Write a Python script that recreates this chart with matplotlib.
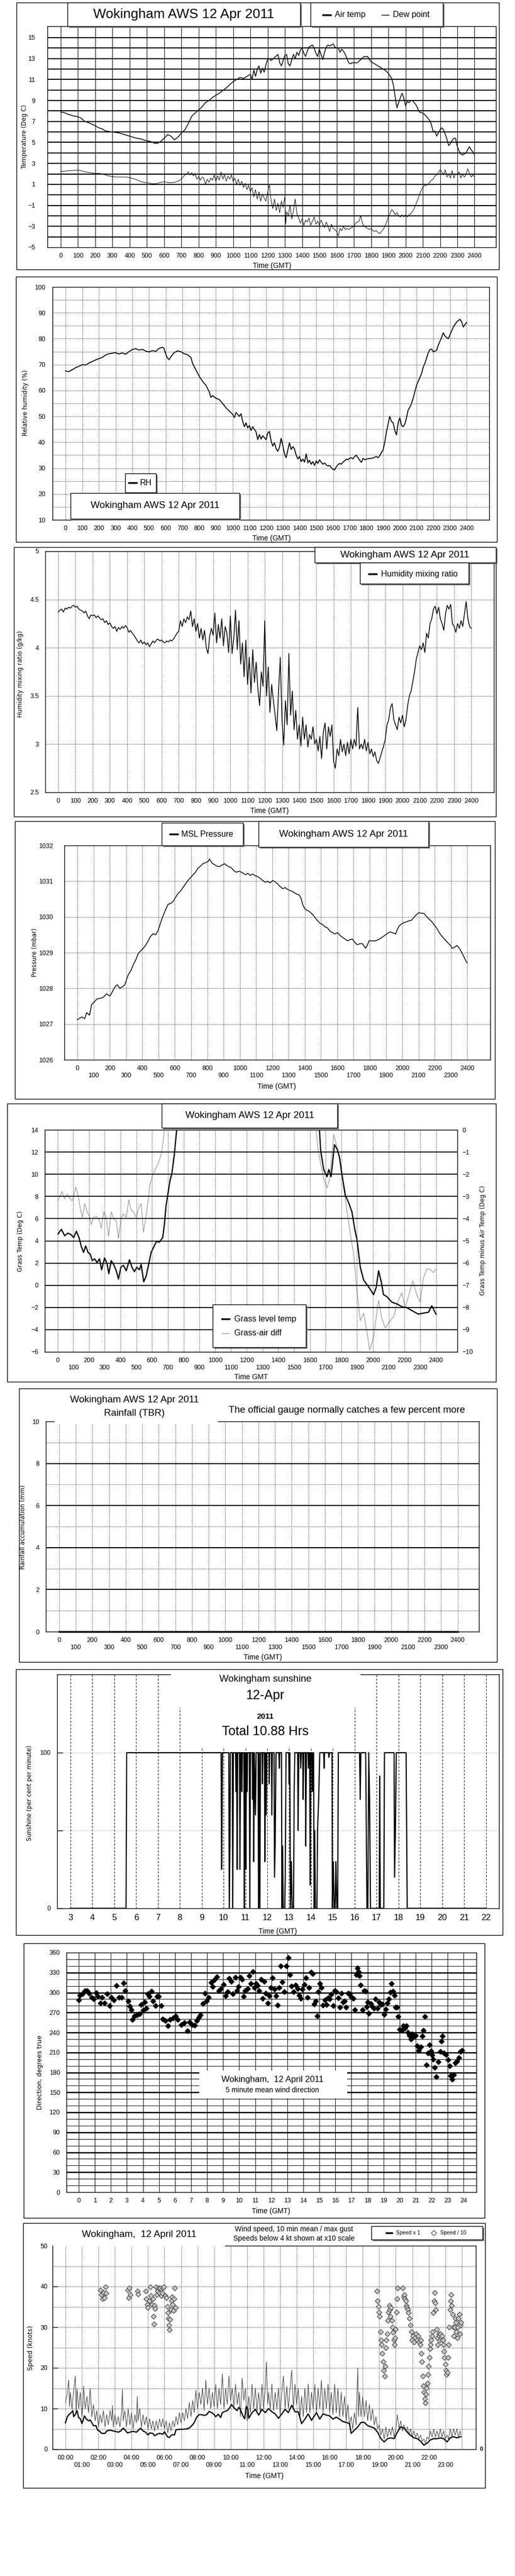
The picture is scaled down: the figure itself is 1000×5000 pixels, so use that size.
import matplotlib
matplotlib.use('Agg')
import matplotlib.pyplot as plt
from matplotlib.patches import Rectangle
from matplotlib.lines import Line2D
import numpy as np

plt.rcParams['font.family'] = ['Liberation Sans', 'DejaVu Sans']
LAB = ['DejaVu Sans']

# ---------------- DATA ----------------
TITLE = 'Wokingham AWS 12 Apr 2011'
hundreds = list(range(0, 2401, 100))

air_temp = [(0,7.9),(20,7.85),(40,7.7),(60,7.6),(80,7.5),(100,7.45),(120,7.3),(140,7.0),(160,6.9),(180,6.75),(200,6.6),
 (220,6.4),(240,6.3),(260,6.1),(280,6.05),(300,6.0),(320,5.95),(340,5.9),(360,5.8),(380,5.7),(400,5.6),(420,5.5),
 (440,5.4),(460,5.35),(480,5.25),(500,5.15),(520,5.1),(540,4.95),(560,4.9),(580,5.1),(600,5.4),(620,5.75),(640,5.6),
 (660,5.25),(680,5.5),(700,5.9),(720,6.2),(740,6.8),(760,7.5),(780,7.8),(800,8.1),(820,8.4),(840,8.8),(860,9.0),
 (880,9.3),(900,9.5),(920,9.7),(940,9.95),(960,10.2),(980,10.5),(1000,10.8),(1020,11.0),(1040,11.2),(1060,11.1),
 (1080,11.3),(1100,11.5),(1110,11.0),(1120,11.9),(1130,11.3),(1140,12.0),(1150,12.3),(1160,11.6),(1170,12.1),
 (1180,11.7),(1190,12.4),(1200,12.9),(1210,13.0),(1220,12.8),(1240,13.1),(1260,13.4),(1270,12.6),(1280,12.3),
 (1290,12.8),(1300,13.3),(1310,13.4),(1320,12.5),(1330,12.3),(1340,12.9),(1350,13.4),(1360,13.0),(1370,13.6),
 (1380,13.3),(1390,13.8),(1400,14.0),(1410,13.5),(1420,13.2),(1430,13.7),(1440,14.1),(1450,14.2),(1460,14.3),
 (1470,14.0),(1480,13.5),(1490,13.2),(1500,13.9),(1510,13.4),(1520,12.9),(1530,13.6),(1540,14.1),(1550,14.3),
 (1560,14.2),(1570,14.3),(1580,14.4),(1590,14.1),(1600,14.0),(1610,14.0),(1620,13.6),(1630,13.9),(1640,13.7),
 (1650,13.4),(1660,13.0),(1670,12.6),(1680,12.5),(1690,12.6),(1700,12.6),(1720,12.6),(1740,12.9),(1760,13.2),
 (1780,13.2),(1790,12.9),(1800,12.7),(1820,12.5),(1840,12.3),(1860,12.1),(1880,11.9),(1900,11.6),(1920,11.1),
 (1930,10.4),(1940,9.3),(1950,8.3),(1960,8.8),(1970,9.3),(1980,9.7),(1990,9.2),(2000,8.5),(2010,8.9),(2020,8.8),
 (2030,9.0),(2040,9.0),(2060,8.6),(2080,7.9),(2100,7.8),(2120,7.5),(2140,7.1),(2150,6.7),(2160,6.0),(2170,6.1),
 (2180,5.6),(2190,5.9),(2200,6.2),(2210,6.4),(2220,6.2),(2230,5.8),(2240,5.3),(2250,4.7),(2260,4.9),(2270,5.2),
 (2280,5.4),(2290,5.4),(2300,4.6),(2310,4.2),(2320,3.9),(2330,3.8),(2340,3.9),(2350,4.0),(2360,4.3),(2370,4.6),
 (2380,4.3),(2390,4.1),(2400,3.85)]

dew_point = [(0,2.25),(20,2.25),(40,2.3),(60,2.3),(80,2.35),(100,2.35),(120,2.3),(140,2.2),(160,2.15),(180,2.1),
 (200,2.05),(220,2.05),(240,2.0),(260,1.9),(280,1.8),(300,1.75),(320,1.7),(340,1.7),(360,1.7),(380,1.7),(400,1.65),
 (420,1.55),(440,1.45),(460,1.3),(480,1.2),(500,1.15),(520,1.1),(540,1.05),(560,1.1),(580,1.2),(600,1.25),(620,1.2),
 (640,1.15),(660,1.2),(680,1.3),(700,1.5),(720,1.9),(730,2.0),(740,2.2),(750,1.9),(760,2.1),(770,1.8),(780,2.05),
 (790,1.5),(800,1.75),(810,1.4),(820,1.7),(830,1.6),(840,1.0),(850,1.5),(860,1.2),(870,1.6),(880,1.4),(890,1.9),
 (900,1.3),(910,1.8),(920,1.4),(930,2.2),(940,1.5),(950,1.9),(960,1.3),(970,1.8),(980,1.5),(990,1.9),(1000,1.3),
 (1010,1.6),(1020,1.0),(1030,1.5),(1040,0.9),(1050,1.3),(1060,0.7),(1070,1.1),(1080,0.5),(1090,0.9),(1100,0.3),
 (1110,0.7),(1120,-0.2),(1130,0.5),(1140,-0.4),(1150,0.3),(1160,-0.6),(1170,0.1),(1180,-0.3),(1190,-0.6),(1200,0.2),
 (1210,1.0),(1220,-0.5),(1230,-1.3),(1240,-0.4),(1250,-1.5),(1260,-0.8),(1270,-1.7),(1280,-0.6),(1290,-1.2),
 (1300,-0.2),(1305,-2.8),(1310,-1.6),(1320,-2.0),(1330,-1.0),(1340,-2.3),(1350,-1.5),(1360,-0.4),(1370,-1.8),
 (1380,-2.2),(1390,-2.7),(1400,-2.3),(1410,-2.9),(1420,-2.4),(1430,-2.6),(1440,-2.2),(1450,-2.9),(1460,-2.5),
 (1470,-2.1),(1480,-2.8),(1490,-2.5),(1500,-2.9),(1510,-2.4),(1520,-2.8),(1530,-3.1),(1540,-2.6),(1550,-3.0),
 (1560,-3.5),(1570,-2.8),(1580,-3.2),(1590,-3.3),(1600,-3.5),(1610,-3.9),(1620,-3.2),(1630,-3.4),(1640,-3.0),
 (1650,-3.3),(1660,-3.2),(1670,-3.3),(1680,-3.2),(1690,-3.1),(1700,-3.0),(1710,-2.7),(1720,-2.6),(1730,-2.5),
 (1740,-2.0),(1750,-2.7),(1760,-3.0),(1770,-3.1),(1780,-3.2),(1790,-3.3),(1800,-3.2),(1810,-3.4),(1820,-3.5),
 (1830,-3.4),(1840,-3.6),(1850,-3.7),(1860,-3.5),(1870,-3.3),(1880,-3.0),(1890,-2.6),(1900,-2.1),(1910,-1.8),
 (1920,-1.4),(1930,-1.6),(1940,-1.9),(1950,-1.7),(1960,-2.0),(1970,-2.1),(1980,-1.9),(1990,-2.1),(2000,-1.9),
 (2010,-2.1),(2020,-1.9),(2030,-1.8),(2040,-1.6),(2050,-1.3),(2060,-0.9),(2070,-0.5),(2080,0.0),(2090,0.4),
 (2100,0.7),(2110,0.9),(2120,0.9),(2130,1.0),(2140,1.2),(2150,1.4),(2160,1.5),(2170,1.8),(2180,1.9),(2190,2.1),
 (2200,2.4),(2210,2.2),(2220,1.9),(2230,2.4),(2240,1.7),(2250,2.0),(2260,1.6),(2270,2.3),(2280,1.6),(2290,2.0),
 (2300,1.9),(2310,2.2),(2320,1.6),(2330,2.0),(2340,1.7),(2350,1.9),(2360,2.5),(2370,2.1),(2380,1.7),(2390,1.9),
 (2400,1.7)]

rel_humidity = [(0,67.5),(20,67.3),(40,68.0),(60,68.8),(80,69.3),(100,70.0),(120,69.8),(140,70.6),(160,71.2),(180,71.8),
 (200,72.3),(220,72.8),(240,73.7),(260,74.2),(280,74.4),(300,74.6),(320,74.1),(340,74.5),(360,74.0),(380,75.0),
 (400,75.8),(420,76.2),(440,75.6),(460,75.9),(480,75.2),(500,74.9),(520,75.4),(540,75.1),(560,76.3),(580,76.7),
 (590,76.2),(600,74.0),(610,72.5),(620,71.9),(630,73.0),(650,74.6),(670,75.3),(690,75.0),(710,74.2),(730,73.8),
 (750,72.8),(760,70.5),(780,68.0),(800,65.5),(820,63.5),(840,62.0),(860,59.5),(870,57.3),(880,58.0),(900,57.0),
 (920,56.5),(940,55.0),(960,53.3),(980,52.0),(1000,50.8),(1010,49.5),(1020,51.5),(1040,50.0),(1050,51.0),
 (1060,48.0),(1070,46.0),(1080,47.5),(1090,45.5),(1100,46.5),(1110,44.5),(1120,46.0),(1140,44.0),(1150,41.0),
 (1160,43.0),(1170,41.2),(1180,42.5),(1200,41.0),(1210,43.5),(1220,44.2),(1230,40.5),(1240,38.5),(1250,39.8),
 (1260,37.5),(1270,36.5),(1280,38.0),(1290,41.5),(1300,38.8),(1310,35.5),(1320,34.0),(1330,37.0),(1340,39.8),
 (1350,37.2),(1360,38.3),(1370,37.4),(1380,35.0),(1390,33.5),(1400,34.5),(1410,32.5),(1420,33.5),(1430,32.3),
 (1440,35.5),(1450,32.0),(1460,33.0),(1470,31.5),(1480,32.5),(1490,31.0),(1500,32.8),(1510,31.8),(1520,33.2),
 (1530,32.3),(1540,31.5),(1550,32.0),(1560,31.2),(1570,30.8),(1580,31.0),(1590,30.2),(1600,29.5),(1610,29.3),
 (1620,30.5),(1630,31.3),(1640,31.8),(1650,31.5),(1660,32.3),(1670,32.8),(1680,33.5),(1690,33.2),(1700,33.8),
 (1710,34.0),(1720,33.6),(1730,34.5),(1740,35.0),(1750,34.0),(1760,33.0),(1770,32.2),(1780,33.8),(1790,33.2),
 (1800,33.5),(1820,33.7),(1840,33.9),(1860,34.5),(1870,34.0),(1880,34.8),(1890,36.0),(1900,37.0),(1910,40.0),
 (1920,44.0),(1930,47.0),(1940,50.0),(1950,48.0),(1960,47.5),(1970,44.5),(1980,42.8),(1990,47.5),(2000,49.5),
 (2010,46.5),(2020,46.0),(2030,47.0),(2040,49.5),(2050,52.5),(2060,53.5),(2070,55.0),(2080,57.0),(2090,59.5),
 (2100,62.0),(2110,63.5),(2120,65.0),(2130,66.5),(2140,69.0),(2150,70.5),(2160,72.5),(2170,74.5),(2180,75.8),
 (2190,76.0),(2200,75.0),(2210,75.2),(2220,75.5),(2230,77.5),(2240,79.0),(2250,80.5),(2260,82.3),(2270,81.0),
 (2280,80.5),(2290,80.0),(2300,81.5),(2310,83.0),(2320,84.5),(2330,85.5),(2340,86.5),(2350,87.0),(2360,87.5),
 (2370,86.5),(2380,84.5),(2390,85.5),(2400,86.3)]

mixing_ratio = [(0,4.37),(10,4.39),(20,4.40),(30,4.37),(40,4.41),(50,4.40),(60,4.42),(70,4.41),(80,4.43),(90,4.44),
 (100,4.42),(110,4.43),(120,4.40),(130,4.39),(140,4.38),(150,4.36),(160,4.38),(170,4.33),(180,4.30),(190,4.34),
 (200,4.33),(210,4.34),(220,4.31),(230,4.33),(240,4.31),(250,4.29),(260,4.30),(270,4.26),(280,4.28),(290,4.24),
 (300,4.26),(310,4.22),(320,4.20),(330,4.22),(340,4.17),(350,4.21),(360,4.19),(370,4.22),(380,4.20),(390,4.23),
 (400,4.21),(410,4.16),(420,4.18),(430,4.15),(440,4.13),(450,4.10),(460,4.07),(470,4.05),(480,4.08),(490,4.04),
 (500,4.06),(510,4.03),(520,4.05),(530,4.01),(540,4.04),(550,4.07),(560,4.05),(570,4.08),(580,4.09),(590,4.07),
 (600,4.08),(610,4.06),(620,4.05),(630,4.07),(640,4.06),(650,4.08),(660,4.07),(670,4.09),(680,4.12),(690,4.15),
 (700,4.17),(710,4.28),(720,4.22),(730,4.30),(740,4.26),(750,4.32),(760,4.29),(770,4.38),(780,4.22),(790,4.30),
 (800,4.17),(810,4.25),(820,4.10),(830,4.20),(840,4.08),(850,4.18),(860,4.00),(870,3.94),(880,4.12),(890,4.20),
 (900,4.13),(910,4.36),(920,4.05),(930,4.24),(940,4.10),(950,4.30),(960,4.02),(970,4.22),(980,4.15),(990,3.95),
 (1000,4.33),(1010,3.94),(1020,4.10),(1030,4.39),(1040,3.98),(1050,4.28),(1060,3.83),(1070,4.05),(1080,3.70),
 (1090,4.08),(1100,3.62),(1110,3.90),(1120,3.53),(1130,3.98),(1140,3.64),(1150,3.85),(1160,3.57),(1170,3.40),
 (1180,3.75),(1190,3.60),(1200,4.28),(1210,3.50),(1220,3.80),(1230,3.33),(1240,3.62),(1250,3.45),(1260,3.30),
 (1270,3.14),(1280,3.55),(1290,3.90),(1300,3.25),(1310,2.99),(1320,3.45),(1330,3.20),(1340,3.94),(1350,3.30),
 (1360,3.55),(1370,3.15),(1380,3.35),(1390,3.05),(1400,3.20),(1410,2.98),(1420,3.28),(1430,3.05),(1440,3.20),
 (1450,2.97),(1460,3.10),(1470,3.05),(1480,3.18),(1490,3.00),(1500,3.05),(1510,2.93),(1520,3.08),(1530,2.85),
 (1540,3.12),(1550,3.22),(1560,2.95),(1570,3.18),(1580,3.08),(1590,3.20),(1600,2.82),(1610,2.75),(1620,2.95),
 (1630,2.88),(1640,3.05),(1650,2.92),(1660,3.00),(1670,2.88),(1680,3.02),(1690,2.90),(1700,3.05),(1710,2.95),
 (1720,3.05),(1730,2.98),(1740,3.38),(1750,2.95),(1760,3.00),(1770,2.95),(1780,3.05),(1790,2.93),(1800,3.02),
 (1810,2.90),(1820,2.95),(1830,2.87),(1840,2.92),(1850,2.83),(1860,2.80),(1870,2.86),(1880,2.92),(1890,2.98),
 (1900,3.05),(1910,3.20),(1920,3.25),(1930,3.38),(1940,3.42),(1950,3.25),(1960,3.20),(1970,3.15),(1980,3.28),
 (1990,3.22),(2000,3.30),(2010,3.18),(2020,3.25),(2030,3.40),(2040,3.50),(2050,3.55),(2060,3.65),(2070,3.75),
 (2080,3.88),(2090,3.95),(2100,4.02),(2110,3.98),(2120,4.05),(2130,3.95),(2140,4.15),(2150,4.10),(2160,4.25),
 (2170,4.30),(2180,4.40),(2190,4.43),(2200,4.35),(2210,4.42),(2220,4.30),(2230,4.25),(2240,4.18),(2250,4.35),
 (2260,4.44),(2270,4.40),(2280,4.45),(2290,4.25),(2300,4.22),(2310,4.16),(2320,4.25),(2330,4.20),(2340,4.28),
 (2350,4.22),(2360,4.35),(2370,4.48),(2380,4.30),(2390,4.22),(2400,4.20)]

msl_pressure = [(0,1027.12),(27,1027.2),(45,1027.15),(57,1027.32),(75,1027.25),(88,1027.55),(105,1027.62),(119,1027.7),
 (140,1027.72),(160,1027.75),(180,1027.85),(200,1027.78),(215,1027.9),(231,1028.04),(245,1028.1),(262,1028.0),
 (280,1028.05),(292,1028.1),(313,1028.38),(330,1028.5),(344,1028.66),(360,1028.8),(374,1028.97),(390,1029.05),
 (405,1029.12),(420,1029.2),(436,1029.33),(450,1029.45),(466,1029.53),(482,1029.5),(497,1029.62),(517,1029.9),
 (538,1030.15),(558,1030.35),(575,1030.38),(589,1030.43),(605,1030.55),(620,1030.66),(635,1030.72),(650,1030.82),
 (665,1030.92),(681,1031.02),(697,1031.1),(712,1031.18),(727,1031.25),(742,1031.36),(758,1031.42),(773,1031.49),
 (790,1031.52),(805,1031.55),(814,1031.62),(830,1031.5),(845,1031.46),(860,1031.42),(875,1031.41),(890,1031.45),
 (906,1031.49),(925,1031.42),(947,1031.38),(962,1031.3),(978,1031.25),(998,1031.28),(1018,1031.23),(1035,1031.18),
 (1049,1031.22),(1065,1031.16),(1080,1031.2),(1095,1031.15),(1110,1031.13),(1125,1031.08),(1141,1031.02),
 (1157,1030.97),(1172,1031.0),(1187,1030.95),(1202,1031.02),(1218,1030.98),(1233,1030.92),(1248,1030.85),
 (1264,1030.79),(1280,1030.82),(1294,1030.77),(1310,1030.74),(1325,1030.71),(1345,1030.65),(1366,1030.61),
 (1377,1030.52),(1387,1030.35),(1397,1030.25),(1407,1030.2),(1428,1030.15),(1448,1030.07),(1463,1029.98),
 (1479,1029.89),(1494,1029.82),(1509,1029.79),(1525,1029.72),(1540,1029.69),(1555,1029.6),(1571,1029.56),
 (1586,1029.52),(1601,1029.56),(1617,1029.48),(1632,1029.43),(1648,1029.38),(1663,1029.33),(1678,1029.36),
 (1693,1029.38),(1709,1029.28),(1724,1029.22),(1740,1029.25),(1755,1029.25),(1765,1029.18),(1775,1029.12),
 (1786,1029.22),(1796,1029.33),(1816,1029.33),(1836,1029.33),(1852,1029.36),(1867,1029.4),(1882,1029.45),
 (1898,1029.5),(1913,1029.55),(1928,1029.58),(1944,1029.55),(1959,1029.52),(1970,1029.65),(1980,1029.74),
 (1995,1029.8),(2010,1029.84),(2025,1029.86),(2041,1029.89),(2056,1029.9),(2072,1029.99),(2087,1030.06),
 (2102,1030.12),(2118,1030.1),(2133,1030.1),(2148,1030.02),(2164,1029.94),(2179,1029.88),(2194,1029.79),
 (2210,1029.7),(2225,1029.58),(2240,1029.48),(2256,1029.4),(2271,1029.32),(2286,1029.25),(2297,1029.2),
 (2307,1029.12),(2322,1029.15),(2337,1029.2),(2352,1029.12),(2368,1028.99),(2383,1028.85),(2399,1028.71)]

# grass temperature (left axis); None = off the top of the chart (not shown)
grass_temp = [(4,4.62),(25,5.04),(46,4.46),(67,4.7),(88,4.54),(103,4.29),(120,4.87),(137,4.29),(152,3.46),(166,2.96),
 (179,3.54),(194,2.96),(208,2.8),(221,2.22),(236,2.38),(251,2.05),(267,2.38),(280,1.39),(299,2.46),(314,1.97),
 (326,1.05),(341,2.22),(356,1.88),(373,1.3),(387,0.56),(402,1.63),(419,1.8),(436,1.3),(457,2.3),(472,1.63),
 (488,1.22),(503,1.63),(520,1.39),(531,1.88),(547,0.31),(562,0.8),(577,1.8),(594,2.96),(611,3.46),(629,3.96),
 (646,3.88),(667,4.29),(678,5.45),(688,7.1),(699,8.1),(714,9.44),(726,10.1),(741,11.76),(756,14.0),(757,None),
 (1660,None),(1661,14.0),(1669,12.09),(1688,10.43),(1709,9.77),(1720,10.43),(1735,9.77),(1756,12.67),(1773,12.26),
 (1787,11.6),(1804,9.93),(1825,8.11),(1846,7.44),(1867,6.61),(1884,5.12),(1899,4.12),(1920,1.63),(1941,0.47),
 (1962,0.06),(1983,-0.36),(2004,-0.85),(2021,-0.19),(2036,1.3),(2053,0.31),(2067,-0.85),(2088,-1.02),(2120,-1.52),
 (2152,-1.68),(2183,-1.93),(2215,-2.02),(2246,-2.27),(2288,-2.6),(2320,-2.51),(2352,-2.43),(2373,-1.85),(2400,-2.6)]

# grass minus air temperature (right axis)
grass_air_diff = [(4,-3.2),(19,-2.95),(29,-2.78),(46,-3.11),(61,-2.9),(78,-3.07),(95,-3.2),(116,-2.57),(131,-2.95),
 (145,-3.53),(158,-3.94),(173,-3.32),(187,-3.69),(200,-3.82),(215,-4.27),(229,-3.94),(246,-3.9),(263,-4.02),
 (278,-4.44),(293,-3.69),(309,-3.94),(324,-4.81),(341,-3.69),(358,-4.02),(373,-4.11),(387,-4.9),(404,-3.94),
 (419,-3.78),(436,-3.94),(453,-3.15),(467,-3.61),(482,-3.69),(499,-3.94),(516,-3.49),(531,-3.32),(545,-4.61),
 (558,-4.11),(573,-3.28),(587,-2.45),(604,-2.03),(621,-1.78),(642,-1.45),(657,-1.12),(667,-0.71),(678,0.0),
 (679,None),(1639,None),(1640,0.0),(1650,-0.79),(1667,-1.45),(1688,-2.2),(1709,-2.61),(1726,-2.2),(1752,-0.21),
 (1773,-0.79),(1794,-1.37),(1815,-2.61),(1836,-3.69),(1857,-4.69),(1878,-5.6),(1899,-7.26),(1920,-8.59),
 (1941,-8.26),(1962,-9.09),(1979,-9.92),(2004,-9.34),(2036,-7.68),(2057,-8.51),(2078,-8.92),(2109,-8.59),
 (2131,-8.42),(2152,-7.84),(2183,-7.34),(2204,-8.01),(2225,-7.51),(2253,-6.8),(2278,-7.43),(2299,-7.76),
 (2320,-6.68),(2341,-6.27),(2362,-6.27),(2383,-6.43),(2400,-6.27)]

rain_accum = [(0,0.0),(2400,0.0)]

# sunshine, hours GMT vs per cent per minute
sunshine = [(3.00,0),(5.54,0),(5.57,100),(9.89,100),(9.91,25),(9.93,50),(9.95,100),(10.24,100),(10.26,0),(10.29,40),
 (10.31,100),(10.40,100),(10.42,0),(10.45,100),(10.55,100),(10.57,75),(10.60,100),(10.62,25),(10.65,100),
 (10.73,100),(10.75,25),(10.78,100),(10.82,100),(10.84,75),(10.86,100),(10.93,100),(10.95,0),(10.98,100),
 (11.00,100),(11.02,25),(11.05,100),(11.08,75),(11.10,100),(11.18,100),(11.20,0),(11.23,100),(11.31,100),
 (11.33,70),(11.36,100),(11.38,30),(11.41,100),(11.46,60),(11.49,100),(11.58,100),(11.60,0),(11.63,100),
 (11.66,0),(11.69,100),(11.76,100),(11.78,80),(11.80,100),(11.87,100),(11.89,30),(11.92,100),(11.95,60),
 (11.98,100),(12.07,100),(12.09,80),(12.11,100),(12.19,100),(12.21,60),(12.23,100),(12.31,100),(12.33,20),
 (12.36,40),(12.40,100),(12.53,100),(12.55,90),(12.57,100),(12.65,100),(12.67,0),(12.70,40),(12.73,0),(12.80,0),
 (12.82,20),(12.86,100),(12.98,100),(13.00,80),(13.03,100),(13.06,0),(13.10,30),(13.14,0),(13.20,0),(13.23,75),
 (13.26,100),(13.39,100),(13.41,50),(13.44,100),(13.51,100),(13.53,90),(13.56,100),(13.62,100),(13.64,70),
 (13.67,100),(13.74,100),(13.76,40),(13.79,100),(13.86,100),(13.88,90),(13.91,100),(13.94,100),(13.96,15),
 (13.99,100),(14.04,100),(14.06,75),(14.09,100),(14.12,100),(14.14,0),(14.17,50),(14.20,0),(14.27,0),(14.30,50),
 (14.35,70),(14.40,100),(14.58,100),(14.60,90),(14.62,100),(14.80,100),(14.82,97),(14.85,100),(14.96,100),
 (14.98,0),(15.02,30),(15.06,0),(15.10,0),(15.14,30),(15.18,0),(15.22,0),(15.25,100),(16.22,100),(16.25,70),
 (16.28,100),(16.50,100),(16.53,50),(16.56,0),(16.60,0),(16.64,100),(16.68,70),(16.72,0),(17.12,0),(17.14,85),
 (17.17,0),(17.33,0),(17.36,100),(17.80,100),(17.82,20),(17.86,50),(17.90,100),(18.35,100),(18.40,0),(22.00,0)]
sun_hours = list(range(3, 23))

# 5 minute mean wind direction (hour, degrees)
wind_dir = [(0.00,288.5),(0.08,296),(0.23,298),(0.37,302.6),(0.52,303),(0.64,299),(0.79,293),(0.93,290.5),(1.10,300),
 (1.20,294),(1.35,284),(1.45,293),(1.62,284),(1.76,298),(1.93,280),(2.03,292.5),(2.18,289),(2.34,310.6),(2.49,293),
 (2.65,293),(2.80,314),(2.90,303),(3.07,287),(3.17,279.6),(3.27,274),(3.34,259.5),(3.48,264.7),(3.63,266),
 (3.79,267.5),(3.90,282),(4.00,273),(4.10,286),(4.21,276.7),(4.31,298),(4.41,294),(4.52,302),(4.62,287),(4.77,280),
 (4.87,294),(4.99,294),(5.14,280),(5.24,260),(5.39,258),(5.55,250),(5.70,259),(5.87,262),(6.03,264.7),(6.18,259),
 (6.38,252),(6.59,255),(6.76,242.3),(6.90,255.5),(7.07,252),(7.21,251),(7.36,257.5),(7.48,262.4),(7.59,266),
 (7.73,283.3),(7.88,299),(7.98,287),(8.10,293),(8.25,315),(8.35,309),(8.46,319),(8.60,323.5),(8.73,303),(8.87,306),
 (9.02,312),(9.14,295),(9.28,301),(9.39,321.5),(9.49,317),(9.60,298),(9.76,322.6),(9.87,303),(9.97,309),
 (10.07,322.6),(10.18,320),(10.28,294),(10.38,302.6),(10.53,305.5),(10.63,325),(10.74,313.5),(10.84,331),
 (10.94,307.7),(11.05,313.5),(11.15,310.6),(11.25,303),(11.36,320),(11.46,291),(11.56,317),(11.67,299),(11.77,284),
 (11.88,295),(11.98,307.7),(12.08,322),(12.19,305),(12.29,295),(12.39,281),(12.50,307),(12.60,340),(12.70,316),
 (12.81,301),(12.95,340),(13.06,352),(13.16,327),(13.26,310),(13.39,301),(13.53,311),(13.64,306),(13.74,295.7),
 (13.84,291),(13.95,305),(14.05,312),(14.16,322),(14.26,293),(14.36,307),(14.47,330.7),(14.57,328),(14.67,282.5),
 (14.78,287),(14.88,265),(14.94,301),(15.03,313.5),(15.13,307.7),(15.23,281),(15.34,289),(15.44,282),(15.54,292),
 (15.65,290.5),(15.75,297),(15.85,280),(15.96,303),(16.06,301),(16.17,292),(16.27,277.6),(16.37,299),(16.48,286),
 (16.58,287.6),(16.68,277.6),(16.79,299),(16.89,298),(16.99,293.4),(17.10,291),(17.20,274),(17.31,326.4),
 (17.37,336.5),(17.43,331),(17.51,325.5),(17.58,311),(17.68,274),(17.78,303),(17.89,302),(17.95,279),(18.03,286),
 (18.09,269),(18.20,283.3),(18.30,279),(18.40,276.7),(18.51,290),(18.61,276.7),(18.71,286),(18.82,282),
 (18.92,282.5),(19.03,267),(19.13,274.7),(19.23,284),(19.34,290.5),(19.44,300.6),(19.50,313.5),(19.59,302),
 (19.69,295.7),(19.75,277.6),(19.85,277.6),(19.92,263.8),(20.02,244.6),(20.12,243),(20.23,249.7),(20.33,246),
 (20.41,250.3),(20.52,240),(20.62,235.4),(20.70,229.7),(20.79,237.4),(20.89,233.7),(20.99,235.4),(21.10,220),
 (21.20,213),(21.31,218.7),(21.41,234.5),(21.49,243),(21.58,264),(21.68,191.5),(21.78,208.7),(21.87,221.6),
 (21.95,212.5),(22.03,205.8),(22.09,200),(22.20,187),(22.28,173.4),(22.40,195.8),(22.55,211.5),(22.61,226.8),
 (22.67,234.5),(22.78,208.7),(22.90,206.7),(23.01,199),(23.11,190),(23.19,175),(23.27,169.4),(23.38,176.3),
 (23.48,194.3),(23.58,196.3),(23.69,202),(23.79,211.5),(23.90,213)]

# wind speed (hour, knots): 10 min mean
speed_mean = [(0.0,6.5),(0.1,7.8),(0.2,8.5),(0.35,9.0),(0.45,9.5),(0.5,8.0),(0.6,8.5),(0.7,9.5),(0.8,7.8),(0.9,7.5),
 (1.0,6.3),(1.1,7.5),(1.15,8.2),(1.25,7.5),(1.4,7.0),(1.5,7.2),(1.6,6.5),(1.7,5.8),(1.85,5.8),(1.95,4.7),(2.05,4.5),
 (2.2,3.9),(2.4,3.9),(2.5,4.5),(2.7,4.7),(2.9,4.5),(3.0,4.4),(3.2,4.2),(3.35,4.5),(3.5,5.2),(3.6,4.8),(3.75,4.0),
 (3.9,4.2),(4.1,4.4),(4.3,4.2),(4.45,4.8),(4.55,5.2),(4.7,4.5),(4.85,4.2),(5.0,3.5),(5.1,4.0),(5.3,3.9),(5.4,3.3),
 (5.55,3.7),(5.7,3.9),(5.9,3.7),(6.0,4.3),(6.1,3.6),(6.2,3.0),(6.3,2.9),(6.4,3.4),(6.5,3.6),(6.6,3.5),(6.7,4.8),
 (6.9,4.9),(7.1,4.9),(7.3,5.0),(7.5,5.2),(7.6,5.6),(7.7,6.0),(7.8,6.6),(7.95,7.9),(8.1,8.5),(8.25,8.5),(8.4,8.3),
 (8.55,8.5),(8.7,9.3),(8.9,8.9),(9.0,8.5),(9.1,8.0),(9.25,8.6),(9.4,7.8),(9.5,9.0),(9.65,9.3),(9.8,9.5),(9.95,10.2),
 (10.05,11.0),(10.15,10.5),(10.25,10.0),(10.4,9.5),(10.5,10.3),(10.6,9.7),(10.75,8.2),(10.85,7.5),(10.95,10.5),
 (11.05,9.8),(11.10,7.6),(11.30,9.0),(11.50,9.8),(11.70,8.4),(11.90,9.8),(12.10,9.0),(12.30,10.0),(12.50,9.2),
 (12.70,8.7),(12.90,7.6),(13.10,8.7),(13.30,9.8),(13.50,9.0),(13.70,10.8),(13.90,9.2),(14.10,9.2),(14.30,6.3),
 (14.50,7.4),(14.70,8.7),(14.90,7.1),(15.20,9.0),(15.40,7.4),(15.60,8.7),(15.80,8.4),(16.00,8.2),(16.20,7.4),
 (16.40,7.9),(16.60,7.4),(16.80,6.8),(17.00,6.6),(17.20,6.3),(17.30,3.9),(17.50,4.7),(17.70,5.5),(17.90,6.6),
 (18.10,6.6),(18.30,5.8),(18.50,5.5),(18.70,5.2),(18.90,4.2),(19.10,2.6),(19.30,1.8),(19.50,2.6),(19.70,2.8),
 (19.90,2.6),(20.10,4.2),(20.30,5.5),(20.50,5.2),(20.70,4.2),(20.90,3.4),(21.10,2.8),(21.30,2.6),(21.50,2.0),
 (21.70,1.0),(21.90,1.5),(22.10,2.3),(22.30,2.6),(22.50,2.6),(22.70,2.8),(22.90,2.6),(23.10,1.8),(23.30,2.8),
 (23.50,3.1),(23.70,2.8),(23.95,3.1)]

# max gust (hour, knots)
speed_gust = [(0.0,11.5),(0.1,13.5),(0.2,17.0),(0.25,10.5),(0.3,14.0),(0.4,9.8),(0.5,14.5),(0.6,18.0),(0.65,9.0),
 (0.7,15.0),(0.8,10.0),(0.9,14.0),(1.0,8.0),(1.05,10.0),(1.1,15.5),(1.2,10.0),(1.3,13.0),(1.4,9.0),(1.5,15.0),
 (1.6,8.0),(1.7,11.0),(1.8,7.0),(1.9,9.5),(2.0,5.5),(2.1,8.5),(2.2,6.5),(2.3,9.5),(2.4,5.5),(2.5,8.5),(2.6,6.0),
 (2.7,9.5),(2.8,7.0),(2.85,10.7),(2.9,5.5),(3.0,8.5),(3.1,6.0),(3.2,8.0),(3.3,5.5),(3.4,9.0),(3.45,14.8),(3.5,7.0),
 (3.6,9.5),(3.7,5.5),(3.8,10.0),(3.9,6.0),(4.0,9.0),(4.1,5.0),(4.2,8.5),(4.3,6.5),(4.35,13.0),(4.4,7.0),(4.5,10.0),
 (4.6,5.5),(4.7,8.5),(4.8,6.0),(4.9,8.0),(5.0,5.0),(5.1,7.5),(5.2,5.0),(5.3,7.0),(5.4,4.5),(5.5,7.0),(5.6,5.0),
 (5.7,7.5),(5.8,5.5),(5.9,7.5),(6.0,5.0),(6.1,7.0),(6.2,4.0),(6.3,6.5),(6.4,4.5),(6.5,7.0),(6.6,5.5),(6.7,8.0),
 (6.8,6.0),(6.9,9.0),(7.0,6.5),(7.1,9.0),(7.2,7.0),(7.3,10.0),(7.4,7.5),(7.5,11.5),(7.6,8.0),(7.7,12.0),(7.8,9.0),
 (7.9,14.5),(8.0,10.0),(8.1,14.0),(8.2,11.0),(8.3,15.0),(8.4,9.5),(8.5,17.0),(8.6,11.0),(8.7,15.0),(8.8,10.0),
 (8.9,14.0),(9.0,10.5),(9.1,16.0),(9.2,10.0),(9.3,15.0),(9.4,11.0),(9.5,18.5),(9.6,10.0),(9.7,15.0),(9.8,11.0),
 (9.9,18.0),(10.0,12.0),(10.1,15.0),(10.2,10.5),(10.3,16.0),(10.4,11.0),(10.5,14.0),(10.6,8.0),(10.7,17.5),
 (10.8,12.0),(10.9,15.0),(11.0,7.0),(11.1,13.0),(11.2,9.0),(11.3,16.0),(11.4,10.0),(11.5,15.0),(11.6,9.5),
 (11.7,14.0),(11.8,9.0),(11.9,16.0),(12.0,10.0),(12.1,15.0),(12.17,21.5),(12.25,11.0),(12.3,14.0),(12.4,10.0),
 (12.5,16.0),(12.6,9.5),(12.7,14.0),(12.8,10.0),(12.9,15.0),(13.0,8.5),(13.1,14.0),(13.2,18.0),(13.3,10.0),
 (13.4,15.5),(13.5,10.0),(13.6,15.0),(13.7,19.4),(13.8,10.0),(13.9,16.0),(14.0,11.0),(14.1,15.0),(14.2,8.0),
 (14.3,13.0),(14.4,8.0),(14.5,15.0),(14.6,9.0),(14.7,16.0),(14.8,9.0),(14.9,14.0),(15.0,10.0),(15.1,16.0),
 (15.2,9.0),(15.3,15.0),(15.4,10.0),(15.5,17.0),(15.6,9.0),(15.7,15.0),(15.8,10.0),(15.9,16.0),(16.0,9.0),
 (16.1,14.0),(16.2,8.5),(16.3,16.0),(16.4,9.0),(16.5,15.0),(16.6,8.0),(16.7,14.0),(16.8,8.0),(16.9,13.0),
 (17.0,7.0),(17.1,11.0),(17.2,6.0),(17.3,8.0),(17.4,5.0),(17.5,9.0),(17.6,6.0),(17.7,19.9),(17.75,8.0),
 (17.8,14.0),(17.9,8.0),(18.0,13.0),(18.1,8.0),(18.2,12.0),(18.3,7.0),(18.4,11.0),(18.5,7.0),(18.6,10.0),
 (18.7,6.0),(18.8,8.0),(18.9,5.0),(19.0,6.0),(19.1,3.5),(19.2,5.0),(19.3,2.5),(19.4,5.5),(19.5,3.0),(19.6,5.0),
 (19.7,3.5),(19.8,5.5),(19.9,3.0),(20.0,5.0),(20.1,8.5),(20.2,5.0),(20.3,7.0),(20.4,4.5),(20.5,6.0),(20.6,4.5),
 (20.7,5.5),(20.8,3.5),(20.9,5.0),(21.0,3.0),(21.1,4.5),(21.2,3.0),(21.3,4.0),(21.4,2.5),(21.5,3.5),(21.6,2.0),
 (21.7,2.5),(21.8,1.5),(21.9,3.0),(22.0,2.5),(22.1,4.5),(22.2,3.0),(22.3,5.0),(22.4,3.0),(22.5,4.5),(22.6,3.0),
 (22.7,5.0),(22.8,3.0),(22.9,4.5),(23.0,2.5),(23.1,3.5),(23.2,2.5),(23.3,5.0),(23.4,3.0),(23.5,5.0),(23.6,3.5),
 (23.7,5.0),(23.8,3.0),(23.9,4.5),(23.95,3.5)]

# speeds below 4 kt shown at x10 scale (hour, plotted value)
speed_x10 = [(2.11,39.1),(2.17,38.0),(2.23,36.9),(2.31,38.5),(2.37,37.2),(2.43,39.9),(2.47,38.4),(3.78,39.1),(3.84,37.2),
 (3.88,39.6),(3.92,38.0),(4.35,38.8),(4.39,38.1),(4.85,38.8),(4.89,36.9),(4.95,35.6),(4.99,34.8),(5.09,36.4),
 (5.13,39.9),(5.19,37.7),(5.25,35.6),(5.29,36.9),(5.33,32.7),(5.35,30.7),(5.39,35.3),(5.43,34.5),(5.49,39.9),
 (5.53,38.0),(5.59,38.8),(5.65,39.6),(5.69,38.4),(5.75,39.6),(5.79,37.7),(5.86,38.3),(5.90,39.6),(5.96,39.9),
 (6.04,37.7),(6.10,37.2),(6.16,35.1),(6.20,33.5),(6.24,32.1),(6.28,30.5),(6.30,29.4),(6.34,31.9),(6.38,34.3),
 (6.42,36.4),(6.46,37.5),(6.50,35.6),(6.54,34.0),(6.58,36.9),(6.62,39.6),(6.66,34.8),(18.87,38.8),(18.91,36.4),
 (18.95,35.1),(18.99,33.7),(19.03,32.7),(19.07,28.9),(19.11,26.8),(19.15,25.7),(19.19,23.6),(19.24,21.5),
 (19.28,19.4),(19.32,18.0),(19.36,20.4),(19.40,24.9),(19.44,26.8),(19.48,28.4),(19.52,31.6),(19.56,33.7),
 (19.60,35.3),(19.64,34.3),(19.68,32.7),(19.72,34.8),(19.76,31.6),(19.80,30.0),(19.84,28.7),(19.88,26.8),
 (19.92,25.7),(19.96,27.3),(20.00,29.5),(20.04,33.7),(20.08,36.9),(20.12,39.6),(20.42,39.6),(20.48,37.5),
 (20.52,38.0),(20.56,36.9),(20.60,36.4),(20.64,35.3),(20.68,34.8),(20.74,34.3),(20.78,33.5),(20.84,32.1),
 (20.90,30.5),(20.94,28.9),(20.99,26.8),(21.05,27.9),(21.11,26.3),(21.17,27.3),(21.23,28.4),(21.29,26.8),
 (21.35,27.9),(21.41,26.3),(21.47,25.7),(21.51,26.8),(21.55,23.6),(21.59,21.5),(21.63,18.0),(21.67,15.6),
 (21.71,14.0),(21.75,12.4),(21.79,11.4),(21.83,13.5),(21.87,15.1),(21.91,16.2),(21.95,18.3),(21.99,20.4),
 (22.03,22.5),(22.07,24.7),(22.11,25.7),(22.15,26.8),(22.19,27.9),(22.23,28.9),(22.27,33.5),(22.31,36.4),
 (22.35,38.5),(22.39,35.9),(22.43,34.3),(22.47,29.5),(22.51,27.3),(22.55,25.7),(22.59,28.4),(22.63,27.9),
 (22.67,26.8),(22.71,28.4),(22.75,27.3),(22.80,27.9),(22.84,26.8),(22.88,25.7),(22.92,24.1),(22.96,22.5),
 (23.00,20.9),(23.04,19.4),(23.08,18.3),(23.12,18.8),(23.16,22.5),(23.20,25.7),(23.24,30.0),(23.28,34.3),
 (23.32,36.4),(23.36,38.0),(23.40,35.3),(23.44,33.2),(23.48,30.0),(23.52,27.9),(23.56,30.0),(23.60,32.1),
 (23.64,31.1),(23.68,28.9),(23.72,27.3),(23.76,30.0),(23.80,32.1),(23.84,33.2),(23.88,28.4),(23.92,30.5),
 (23.96,31.1)]
wind_hours = list(range(0, 25))


def split(pairs):
    t = np.array([p[0] for p in pairs], dtype=float)
    v = np.array([np.nan if p[1] is None else p[1] for p in pairs], dtype=float)
    return t, v

# ---------------- LAYOUT HELPERS ----------------
W, H = 1000, 5000
fig = plt.figure(figsize=(10, 50), dpi=100)
fig.patch.set_facecolor('white')

def fx(x): return x / W
def fy(y): return 1 - y / H

def add_ax(x0, y0, x1, y1):
    ax = fig.add_axes([x0 / W, 1 - y1 / H, (x1 - x0) / W, (y1 - y0) / H])
    for s in ax.spines.values():
        s.set_linewidth(1.0); s.set_color('black')
    ax.tick_params(length=0, labelsize=9)
    return ax

def frame(x0, y0, x1, y1):
    fig.add_artist(Rectangle((fx(x0), fy(y1)), (x1 - x0) / W, (y1 - y0) / H, transform=fig.transFigure,
                             fill=False, ec='black', lw=1.0, zorder=0.5))

def box(x0, y0, x1, y1, shadow=True, edge=True, z=5):
    if shadow:
        fig.add_artist(Rectangle((fx(x0 + 3), fy(y1 + 3)), (x1 - x0) / W, (y1 - y0) / H,
                                 transform=fig.transFigure, fc='#7a7a7a', ec='none', zorder=z))
    fig.add_artist(Rectangle((fx(x0), fy(y1)), (x1 - x0) / W, (y1 - y0) / H, transform=fig.transFigure,
                             fc='white', ec='black' if edge else 'none', lw=1.0, zorder=z + 0.1))

def ftext(x, y, s, size, ha='center', va='center', z=6, **kw):
    fig.text(fx(x), fy(y), s, fontsize=size, ha=ha, va=va, zorder=z, **kw)

def key_line(x0, x1, y, lw, color='black', z=6):
    fig.add_artist(Line2D([fx(x0), fx(x1)], [fy(y), fy(y)], transform=fig.transFigure, color=color, lw=lw, zorder=z))

def stagger(vals, fmt=str):
    return [fmt(v) if i % 2 == 0 else '\n' + fmt(v) for i, v in enumerate(vals)]

# ---------------- PANEL 1: temperature ----------------
frame(32, 5, 969, 523)
ax = add_ax(92, 51, 963, 480)
ax.set_xlim(-77, 2524); ax.set_ylim(-5, 16.08)
for v in range(-4, 16):
    ax.axhline(v, color='black', lw=1.5, zorder=1)
for t in hundreds:
    ax.axvline(t, color='black', lw=0.7, zorder=1)
t, v = split(air_temp); ax.plot(t, v, color='black', lw=1.1, zorder=3)
t, v = split(dew_point); ax.plot(t, v, color='black', lw=0.7, zorder=3)
ax.set_yticks(range(-5, 16, 2)); ax.set_xticks(hundreds)
ax.tick_params(axis='y', pad=17); ax.tick_params(axis='x', pad=8)
box(131, 5, 583, 51); ftext(357, 28, TITLE, 19)
box(603, 5, 860, 51)
key_line(627, 642, 29, 2.5); ftext(650, 29, 'Air temp', 11.5, ha='left')
key_line(741, 755, 29, 1.0); ftext(763, 29, 'Dew point', 11.5, ha='left')
ftext(48, 265, 'Temperature (Deg C)', 8.5, rotation=90, family=LAB)
ftext(528, 516, 'Time (GMT)', 10)

# ---------------- PANEL 2: RH ----------------
frame(31, 537, 965, 1052)
ax = add_ax(102, 557, 950, 1009)
ax.set_xlim(-77.5, 2535); ax.set_ylim(10, 100)
for v in range(15, 100, 5):
    ax.axhline(v, color='black', lw=0.7, ls=':', zorder=1)
for t in hundreds:
    ax.axvline(t, color='black', lw=0.7, ls=':', zorder=1)
t, v = split(rel_humidity); ax.plot(t, v, color='black', lw=1.3, zorder=3)
ax.set_yticks(range(10, 101, 10)); ax.set_xticks(hundreds)
ax.tick_params(axis='y', pad=10); ax.tick_params(axis='x', pad=8)
box(243, 919, 303, 956); key_line(250, 265, 937, 2.5); ftext(272, 937, 'RH', 11.5, ha='left')
box(137, 957, 465, 1007); ftext(301, 982, TITLE, 13.5)
ftext(50, 782, 'Relative humidity (%)', 8.5, rotation=90, family=LAB)
ftext(527, 1045, 'Time (GMT)', 10)

# ---------------- PANEL 3: mixing ratio ----------------
frame(27, 1062, 963, 1585)
ax = add_ax(88, 1070, 959, 1538)
ax.set_xlim(-75, 2531); ax.set_ylim(2.5, 5)
for v in [3, 3.5, 4, 4.5]:
    ax.axhline(v, color='black', lw=0.7, ls=':', zorder=1)
for t in hundreds:
    ax.axvline(t, color='black', lw=0.7, ls=':', zorder=1)
t, v = split(mixing_ratio); ax.plot(t, v, color='black', lw=1.1, zorder=3)
ax.set_yticks([2.5, 3, 3.5, 4, 4.5, 5]); ax.set_yticklabels(['2.5', '3', '3.5', '4', '4.5', '5'])
ax.set_xticks(hundreds)
ax.tick_params(axis='y', pad=9); ax.tick_params(axis='x', pad=8)
box(611, 1062, 963, 1092); ftext(786, 1077, TITLE, 13.5)
box(699, 1092, 910, 1133); key_line(716, 731, 1114, 2.5); ftext(740, 1114, 'Humidity mixing ratio', 11.5, ha='left')
ftext(40, 1308, 'Humidity mixing ratio (g/kg)', 8.5, rotation=90, family=LAB)
ftext(523, 1574, 'Time (GMT)', 10)

# ---------------- PANEL 4: pressure ----------------
frame(29, 1594, 961, 2133)
ax = add_ax(125, 1641, 952, 2057)
ax.set_xlim(-80, 2542); ax.set_ylim(1026, 1032)
for v in range(1027, 1032):
    ax.axhline(v, color='black', lw=0.7, ls=':', zorder=1)
for t in hundreds:
    ax.axvline(t, color='black', lw=0.7, ls=':', zorder=1)
t, v = split(msl_pressure); ax.plot(t, v, color='black', lw=1.1, zorder=3)
ax.set_yticks(range(1026, 1033)); ax.set_xticks(hundreds); ax.set_xticklabels(stagger(hundreds))
ax.tick_params(axis='y', pad=16); ax.tick_params(axis='x', pad=8)
box(314, 1597, 472, 1641); key_line(330, 345, 1619, 2.5); ftext(352, 1619, 'MSL Pressure', 11.5, ha='left')
box(502, 1594, 832, 1644); ftext(667, 1619, TITLE, 13.5)
ftext(68, 1849, 'Pressure (mbar)', 8.5, rotation=90, family=LAB)
ftext(537, 2109, 'Time (GMT)', 10)

# ---------------- PANEL 5: grass temp ----------------
frame(14, 2142, 963, 2682)
ax = add_ax(87, 2193, 888, 2624)
ax.set_xlim(-80, 2535); ax.set_ylim(-6, 14)
for v in range(-4, 14, 2):
    ax.axhline(v, color='black', lw=1.3, zorder=1)
for t in hundreds:
    ax.axvline(t, color='black', lw=0.7, ls=':', zorder=1)
ax2 = ax.twinx()
ax2.set_ylim(-10, 0)
t, v = split(grass_air_diff); ax2.plot(t, v, color='#8c8c8c', lw=0.8, zorder=3)
t, v = split(grass_temp); ax.plot(t, v, color='black', lw=1.7, zorder=4)
ax.set_zorder(ax2.get_zorder() + 1); ax.patch.set_visible(False)
ax.set_yticks(range(-6, 15, 2)); ax.set_xticks(hundreds); ax.set_xticklabels(stagger(hundreds))
ax.tick_params(axis='y', pad=9); ax.tick_params(axis='x', pad=8)
ax2.set_yticks(range(-10, 1)); ax2.tick_params(length=0, labelsize=9, pad=7)
box(314, 2142, 655, 2189); ftext(485, 2166, TITLE, 13.5)
box(413, 2532, 594, 2615)
key_line(431, 445, 2560, 2.5); ftext(455, 2560, 'Grass level temp', 11.5, ha='left')
key_line(431, 445, 2588, 1.0, color='#8c8c8c'); ftext(455, 2588, 'Grass-air diff', 11.5, ha='left')
ftext(40, 2409, 'Grass Temp (Deg C)', 8.5, rotation=90, family=LAB)
ftext(937, 2408, 'Grass Temp minus Air Temp (Deg C)', 8.5, rotation=90, family=LAB)
ftext(488, 2673, 'Time GMT', 10)

# ---------------- PANEL 6: rainfall ----------------
frame(37, 2695, 965, 3226)
ax = add_ax(89, 2759, 930, 3167)
ax.set_xlim(-80, 2528); ax.set_ylim(0, 10)
for v in [2, 4, 6, 8]:
    ax.axhline(v, color='black', lw=1.5, zorder=1)
for v in [1, 3, 5, 7, 9]:
    ax.axhline(v, color='black', lw=0.7, ls=':', zorder=1)
for t in hundreds:
    ax.axvline(t, color='black', lw=0.7, ls=':', zorder=1)
t, v = split(rain_accum); ax.plot(t, v, color='black', lw=2.5, zorder=3, clip_on=False)
ax.set_yticks(range(0, 11, 2)); ax.set_xticks(hundreds); ax.set_xticklabels(stagger(hundreds))
ax.tick_params(axis='y', pad=9); ax.tick_params(axis='x', pad=8)
box(106, 2755, 423, 2763, shadow=False, edge=False)
ftext(261, 2717, TITLE, 13.5)
ftext(261, 2743, 'Rainfall (TBR)', 13.5)
ftext(674, 2737, 'The official gauge normally catches a few percent more', 13.5)
ftext(45, 2964, 'Rainfall accumulation (mm)', 8.5, rotation=90, family=LAB)
ftext(510, 3217, 'Time (GMT)', 10)

# ---------------- PANEL 7: sunshine ----------------
frame(31, 3240, 976, 3756)
ax = add_ax(111, 3250, 969, 3704)
ax.set_xlim(2.39, 22.6); ax.set_ylim(0, 150.3)
for h in sun_hours:
    ax.axvline(h, color='black', lw=0.7, ls=(0, (4, 3)), zorder=1)
for v in [50, 100]:
    ax.axhline(v, color='#9a9a9a', lw=0.8, ls=':', zorder=1)
t, v = split(sunshine); ax.plot(t, v, color='black', lw=1.6, zorder=3)
ax.set_yticks([0, 50, 100]); ax.set_yticklabels(['0', '', '100'])
ax.tick_params(axis='y', length=8, width=1, direction='in', pad=9)
ax.set_xticks(sun_hours); ax.tick_params(axis='x', labelsize=12, pad=8)
box(332, 3245, 700, 3315, shadow=False, edge=False)
box(352, 3315, 686, 3391, shadow=False, edge=False)
ftext(515, 3260, 'Wokingham sunshine', 13.5)
ftext(515, 3291, '12-Apr', 18)
ftext(515, 3332, '2011', 11, fontweight='bold')
ftext(515, 3361, 'Total 10.88 Hrs', 18)
ftext(58, 3480, 'Sunshine (per cent per minute)', 8.5, rotation=90, family=LAB)
ftext(539, 3749, 'Time (GMT)', 10)

# ---------------- PANEL 8: wind direction ----------------
frame(46, 3772, 941, 4305)
ax = add_ax(129, 3790, 925, 4255)
ax.set_xlim(-0.77, 24.79); ax.set_ylim(0, 360)
for v in range(10, 360, 10):
    ax.axhline(v, color='black', lw=0.7, zorder=1)
for v in range(30, 360, 30):
    ax.axhline(v, color='black', lw=1.8, zorder=1)
for h in wind_hours:
    ax.axvline(h, color='black', lw=0.7, zorder=1)
t, v = split(wind_dir)
ax.plot(t, v, ls='none', marker='D', ms=5.5, mfc='black', mec='black', zorder=4)
ax.set_yticks(range(0, 361, 30)); ax.set_xticks(wind_hours)
ax.tick_params(axis='y', pad=9); ax.tick_params(axis='x', pad=8)
box(387, 4019, 674, 4073, shadow=False, edge=False)
ftext(529, 4037, 'Wokingham,  12 April 2011', 12)
ftext(529, 4057, '5 minute mean wind direction', 10)
ftext(77, 4023, 'Direction, degrees true', 9, rotation=90, family=LAB)
ftext(526, 4292, 'Time (GMT)', 10)

# ---------------- PANEL 9: wind speed ----------------
frame(45, 4315, 942, 4829)
ax = add_ax(102, 4359, 924, 4754)
ax.set_xlim(-0.78, 24.85); ax.set_ylim(0, 50)
for v in range(5, 50, 5):
    ax.axhline(v, color='black', lw=0.7, ls=':', zorder=1)
for h in wind_hours:
    ax.axvline(h, color='black', lw=0.7, ls=':', zorder=1)
t, v = split(speed_gust); ax.plot(t, v, color='#4a4a4a', lw=0.8, zorder=3)
t, v = split(speed_mean); ax.plot(t, v, color='black', lw=1.7, zorder=4)
t, v = split(speed_x10)
ax.plot(t, v, ls='none', marker='D', ms=5.5, mfc='#c8c8c8', mec='#3a3a3a', mew=0.8, zorder=5)
ax.set_yticks(range(0, 51, 10)); ax.set_xticks(wind_hours[:-1])
ax.set_xticklabels(stagger(wind_hours[:-1], lambda h: '%02d:00' % h))
ax.tick_params(axis='y', length=7, width=1, direction='in', pad=7); ax.tick_params(axis='x', pad=8)
box(103, 4356, 437, 4362, shadow=False, edge=False)
ftext(270, 4337, 'Wokingham,  12 April 2011', 13.5)
ftext(571, 4327, 'Wind speed, 10 min mean / max gust', 10)
ftext(571, 4345, 'Speeds below 4 kt shown at x10 scale', 10)
box(721, 4321, 937, 4347)
key_line(750, 761, 4334, 2.5); ftext(769, 4334, 'Speed x 1', 7.5, ha='left')
fig.add_artist(Line2D([fx(842)], [fy(4334)], transform=fig.transFigure, ls='none', marker='D', ms=5,
                      mfc='white', mec='#3a3a3a', mew=0.8, zorder=6))
ftext(855, 4334, 'Speed / 10', 7.5, ha='left')
ftext(932, 4754, '0', 8, ha='left', fontweight='bold')
ftext(59, 4557, 'Speed (knots)', 9, rotation=90, family=LAB)
ftext(513, 4806, 'Time (GMT)', 10)

fig.savefig('out.png', dpi=100, facecolor='white')
